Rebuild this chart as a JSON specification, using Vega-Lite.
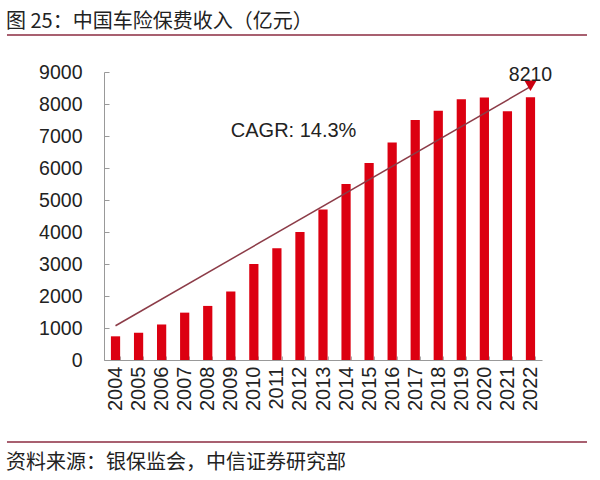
{
  "$schema": "https://vega.github.io/schema/vega-lite/v6.json",
  "padding": {"left": 5, "top": 12, "right": 5, "bottom": 8},
  "spacing": 26,
  "config": {
    "view": {"stroke": null},
    "font": "Liberation Sans",
    "title": {"font": "Noto Sans CJK SC", "fontWeight": "normal", "color": "#222222", "anchor": "start", "frame": "bounds"}
  },
  "vconcat": [
    {
      "width": 438,
      "height": 2,
      "title": {"text": "图 25：中国车险保费收入（亿元）", "fontSize": 20, "offset": 1},
      "data": {"values": [{"p": 0}]},
      "mark": {"type": "rule", "color": "#a86070", "strokeWidth": 2},
      "encoding": {
        "x": {"datum": -0.2215, "type": "quantitative", "scale": {"domain": [0, 1], "nice": false, "zero": false}, "axis": null},
        "x2": {"datum": 1.1027},
        "y": {"datum": 0, "type": "quantitative", "scale": {"domain": [0, 1]}, "axis": null}
      }
    },
    {
      "width": 438,
      "height": 288,
      "encoding": {
        "x": {
          "field": "year", "type": "nominal", "sort": null,
          "scale": {"paddingInner": 0.6, "paddingOuter": 0.3},
          "axis": {
            "title": null, "labelAngle": -90, "labelFontSize": 20, "labelColor": "#222222",
            "labelPadding": 10, "domainColor": "#999999", "tickColor": "#aaaaaa",
            "tickBand": "extent", "tickSize": -4
          }
        },
        "y": {
          "field": "value", "type": "quantitative",
          "scale": {"domain": [0, 9000], "nice": false},
          "axis": {
            "title": null, "values": [0, 1000, 2000, 3000, 4000, 5000, 6000, 7000, 8000, 9000],
            "format": "d", "labelOverlap": false,
            "grid": false, "labelFontSize": 19.5, "labelColor": "#222222", "labelPadding": 27,
            "domainColor": "#999999", "tickColor": "#999999", "tickSize": -5
          }
        }
      },
      "layer": [
        {
          "data": {"values": [
            {"year": "2004", "value": 740},
            {"year": "2005", "value": 850},
            {"year": "2006", "value": 1110},
            {"year": "2007", "value": 1480},
            {"year": "2008", "value": 1690},
            {"year": "2009", "value": 2140},
            {"year": "2010", "value": 3000},
            {"year": "2011", "value": 3490},
            {"year": "2012", "value": 4000},
            {"year": "2013", "value": 4700},
            {"year": "2014", "value": 5500},
            {"year": "2015", "value": 6160},
            {"year": "2016", "value": 6800},
            {"year": "2017", "value": 7500},
            {"year": "2018", "value": 7790},
            {"year": "2019", "value": 8150},
            {"year": "2020", "value": 8200},
            {"year": "2021", "value": 7770},
            {"year": "2022", "value": 8210}
          ]},
          "mark": {"type": "bar", "color": "#dc0011"}
        },
        {
          "data": {"values": [{"year": "2004", "value": 1070}, {"year": "2022", "value": 8540}]},
          "mark": {"type": "line", "color": "#8c3c48", "strokeWidth": 1.5}
        },
        {
          "data": {"values": [{"year": "2022", "value": 8570}]},
          "mark": {"type": "point", "shape": "triangle-down", "filled": true, "color": "#cc0010", "size": 150, "opacity": 1}
        },
        {
          "data": {"values": [{"year": "2009", "value": 7150, "label": "CAGR: 14.3%"}]},
          "mark": {"type": "text", "fontSize": 20, "color": "#222222", "baseline": "middle", "align": "left"},
          "encoding": {"text": {"field": "label"}}
        },
        {
          "data": {"values": [{"year": "2022", "value": 8900, "label": "8210"}]},
          "mark": {"type": "text", "fontSize": 19.5, "color": "#222222", "baseline": "middle", "align": "center"},
          "encoding": {"text": {"field": "label"}}
        }
      ]
    },
    {
      "width": 438,
      "height": 5,
      "title": {"text": "资料来源：银保监会，中信证券研究部", "fontSize": 20, "orient": "bottom", "offset": 10},
      "data": {"values": [{"p": 0}]},
      "mark": {"type": "rule", "color": "#a86070", "strokeWidth": 2},
      "encoding": {
        "x": {"datum": -0.2215, "type": "quantitative", "scale": {"domain": [0, 1], "nice": false, "zero": false}, "axis": null},
        "x2": {"datum": 1.1027},
        "y": {"datum": 0, "type": "quantitative", "scale": {"domain": [0, 1]}, "axis": null}
      }
    }
  ]
}
